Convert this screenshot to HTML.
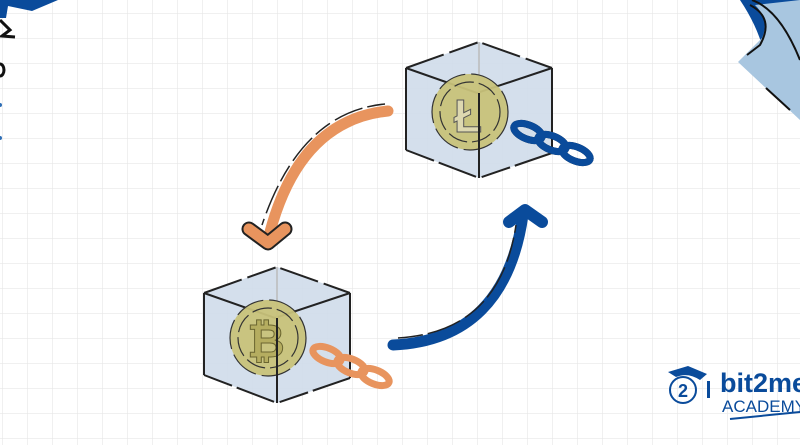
<!DOCTYPE html>
<html><head><meta charset="utf-8"><style>
html,body{margin:0;padding:0;width:800px;height:445px;overflow:hidden;background:#fff}
</style></head><body>
<svg width="800" height="445" viewBox="0 0 800 445" xmlns="http://www.w3.org/2000/svg">
<defs>
<pattern id="g" x="2" y="13" width="25" height="25" patternUnits="userSpaceOnUse">
<path d="M0 0H25M0 0V25" stroke="#e6e6e6" stroke-width="1.2" fill="none"/>
</pattern>
<g id="cube">
<polygon points="0,-26 73,0 73,85 0,110 -73,82 -73,0" fill="#cfdcea" opacity="0.9"/>
<polyline points="-73,0 0,-26 73,0" fill="none" stroke="#222" stroke-width="2" stroke-dasharray="40 6 30 5"/>
<polyline points="-73,0 -2,25 73,0" fill="none" stroke="#222" stroke-width="2"/>
<line x1="-73" y1="0" x2="-73" y2="82" stroke="#222" stroke-width="2"/>
<line x1="73" y1="0" x2="73" y2="85" stroke="#222" stroke-width="2"/>
<polyline points="-73,82 0,110 73,85" fill="none" stroke="#222" stroke-width="2" stroke-dasharray="30 5 40 6"/>
<line x1="0" y1="-26" x2="0" y2="55" stroke="#bbb" stroke-width="1.5"/>
</g>
<g id="chain" fill="none">
<ellipse cx="0" cy="0" rx="15" ry="7" transform="rotate(22)" stroke-width="7"/>
<ellipse cx="24" cy="11" rx="15" ry="7" transform="rotate(22 24 11)" stroke-width="7"/>
<ellipse cx="48" cy="22" rx="15" ry="7" transform="rotate(22 48 22)" stroke-width="7"/>
</g>
</defs>
<rect width="800" height="445" fill="#fff"/>
<rect width="800" height="445" fill="url(#g)"/>
<!-- top-left decor -->
<path d="M0 0H58L32 11L8 6L6 18L0 18Z" fill="#0a4b9b"/>
<path d="M0 20L10 30L2 36L15 37" stroke="#111" stroke-width="3" fill="none"/>
<path d="M0 64a4 6 0 0 1 0 12" stroke="#111" stroke-width="3" fill="none"/>
<circle cx="0" cy="105" r="2" fill="#2d6db5"/><circle cx="0" cy="138" r="2" fill="#2d6db5"/>
<!-- top-right decor -->
<path d="M740 0H800V80L765 58Q760 30 740 0Z" fill="#0a4b9b"/>
<path d="M755 5Q770 20 762 38L738 62L800 120V0Z" fill="#a8c6e0"/>
<path d="M750 5Q775 18 760 45L747 55" stroke="#111" stroke-width="2" fill="none"/>
<path d="M752 0Q780 10 800 60" stroke="#111" stroke-width="2" fill="none"/>
<path d="M766 88L790 110" stroke="#111" stroke-width="2" fill="none"/>
<!-- orange arrow -->
<path d="M388 111Q300 120 270 232" stroke="#e8945e" stroke-width="11" fill="none" stroke-linecap="round"/>
<path d="M385 104Q300 112 262 225" stroke="#222" stroke-width="1.5" fill="none" stroke-dasharray="18 5 30 6"/>
<path d="M249 229L268 243L285 229" stroke="#222" stroke-width="15" fill="none" stroke-linecap="round" stroke-linejoin="round"/>
<path d="M249 229L268 243L285 229" stroke="#e8945e" stroke-width="11" fill="none" stroke-linecap="round" stroke-linejoin="round"/>
<!-- blue arrow -->
<path d="M393 345Q505 340 523 215" stroke="#0a4b9b" stroke-width="11" fill="none" stroke-linecap="round"/>
<path d="M398 338Q500 332 516 225" stroke="#222" stroke-width="1.5" fill="none" stroke-dasharray="25 5 35 6"/>
<path d="M509 222L525 210L542 222" stroke="#0a4b9b" stroke-width="12" fill="none" stroke-linecap="round" stroke-linejoin="round"/>
<!-- top cube -->
<g transform="translate(479,68)">
<use href="#cube"/>
<circle cx="-9" cy="44" r="38" fill="#c8c27a" opacity="0.95"/>
<circle cx="-9" cy="44" r="30" fill="none" stroke="#333" stroke-width="1.2" stroke-dasharray="20 5"/>
<circle cx="-9" cy="44" r="38" fill="none" stroke="#333" stroke-width="1.2" stroke-dasharray="30 6"/>
<text x="-11" y="64" font-family="Liberation Sans,sans-serif" font-size="46" font-weight="bold" fill="#ddd8b0" stroke="#555" stroke-width="1" text-anchor="middle">Ł</text>
<line x1="0" y1="25" x2="0" y2="110" stroke="#222" stroke-width="2"/>
</g>
<g transform="translate(528,132)">
<use href="#chain" stroke="#111" style="stroke-width:9"/>
<g fill="none" stroke="#0a4b9b">
<ellipse cx="0" cy="0" rx="15" ry="7" transform="rotate(22)" stroke-width="7"/>
<ellipse cx="24" cy="11" rx="15" ry="7" transform="rotate(22 24 11)" stroke-width="7"/>
<ellipse cx="48" cy="22" rx="15" ry="7" transform="rotate(22 48 22)" stroke-width="7"/>
</g>
</g>
<!-- bottom cube -->
<g transform="translate(277,293)">
<use href="#cube"/>
<circle cx="-9" cy="45" r="38" fill="#c8c27a" opacity="0.95"/>
<circle cx="-9" cy="45" r="30" fill="none" stroke="#333" stroke-width="1.2" stroke-dasharray="20 5"/>
<circle cx="-9" cy="45" r="38" fill="none" stroke="#333" stroke-width="1.2" stroke-dasharray="30 6"/>
<text x="-11" y="64" font-family="Liberation Sans,sans-serif" font-size="46" font-weight="bold" fill="#b5ad60" stroke="#6a6530" stroke-width="1" text-anchor="middle">₿</text>
<line x1="0" y1="25" x2="0" y2="110" stroke="#222" stroke-width="2"/>
</g>
<g transform="translate(327,355)" fill="none" stroke="#e8945e">
<ellipse cx="0" cy="0" rx="15" ry="7" transform="rotate(22)" stroke-width="7"/>
<ellipse cx="24" cy="11" rx="15" ry="7" transform="rotate(22 24 11)" stroke-width="7"/>
<ellipse cx="48" cy="22" rx="15" ry="7" transform="rotate(22 48 22)" stroke-width="7"/>
</g>
<!-- logo -->
<circle cx="683" cy="390" r="13" fill="none" stroke="#0a4b9b" stroke-width="2"/>
<text x="683" y="397" font-family="Liberation Sans,sans-serif" font-size="18" font-weight="bold" fill="#0a4b9b" text-anchor="middle">2</text>
<path d="M668 372L688 366L707 374L700 380Q688 372 676 377Z" fill="#0a4b9b"/>
<rect x="707" y="381" width="3" height="17" fill="#0a4b9b"/>
<text x="720" y="392" font-family="Liberation Sans,sans-serif" font-size="27" font-weight="bold" fill="#0a4b9b">bit2me</text>
<text x="722" y="412" font-family="Liberation Sans,sans-serif" font-size="17" fill="#0a4b9b">ACADEMY</text>
<path d="M730 419L800 412" stroke="#0a4b9b" stroke-width="2"/>
</svg>
</body></html>
